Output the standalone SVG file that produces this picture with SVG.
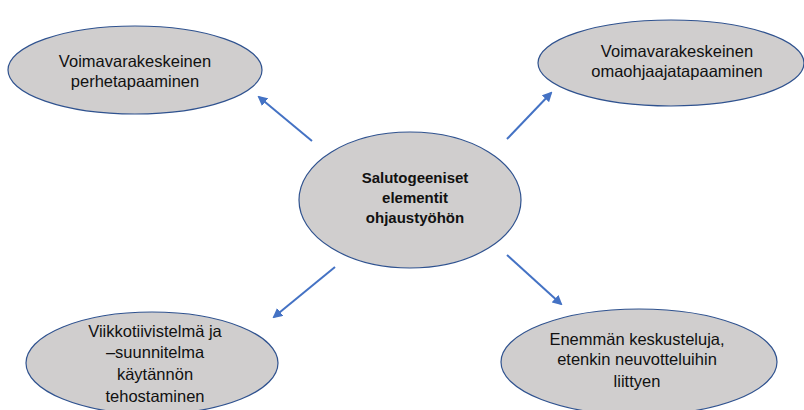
<svg xmlns="http://www.w3.org/2000/svg" width="804" height="410" viewBox="0 0 804 410">
<style>
.node ellipse{fill:#D0CECE;stroke:#2F528F;stroke-width:1.2}
.node text{font-family:"Liberation Sans",Arial,sans-serif;font-size:16.5px;fill:#111;text-anchor:middle}
.node text.b{font-weight:bold;font-size:15px}
.conn line{stroke:#4472C4;stroke-width:2;marker-end:url(#ah)}
</style>
<defs>
<marker id="ah" viewBox="0 0 10 10" refX="8" refY="5" markerWidth="5" markerHeight="5" orient="auto" markerUnits="strokeWidth">
<path d="M0,0 L10,5 L0,10 z" fill="#4472C4"/>
</marker>
</defs>
<rect width="804" height="410" fill="#fff"/>
<g class="conn">
<line x1="312" y1="141" x2="259" y2="97"/>
<line x1="507" y1="139" x2="551" y2="93"/>
<line x1="335" y1="267" x2="274" y2="317"/>
<line x1="507" y1="255" x2="561" y2="304"/>
</g>
<g class="node" id="n1">
<ellipse cx="135" cy="70" rx="127" ry="44"/>
<text x="135" y="67">Voimavarakeskeinen</text>
<text x="135" y="87">perhetapaaminen</text>
</g>
<g class="node" id="n2">
<ellipse cx="671" cy="63" rx="133" ry="43"/>
<text x="677" y="57">Voimavarakeskeinen</text>
<text x="677" y="77">omaohjaajatapaaminen</text>
</g>
<g class="node" id="center">
<ellipse cx="410" cy="200" rx="111" ry="68"/>
<text class="b" x="415" y="183">Salutogeeniset</text>
<text class="b" x="415" y="203">elementit</text>
<text class="b" x="415" y="223">ohjaustyöhön</text>
</g>
<g class="node" id="n3">
<ellipse cx="152" cy="363" rx="126" ry="51"/>
<text x="155" y="337">Viikkotiivistelmä ja</text>
<text x="155" y="358">–suunnitelma</text>
<text x="155" y="380">käytännön</text>
<text x="155" y="402">tehostaminen</text>
</g>
<g class="node" id="n4">
<ellipse cx="639" cy="362" rx="138" ry="53"/>
<text x="637" y="345">Enemmän keskusteluja,</text>
<text x="637" y="365">etenkin neuvotteluihin</text>
<text x="637" y="387">liittyen</text>
</g>
</svg>
